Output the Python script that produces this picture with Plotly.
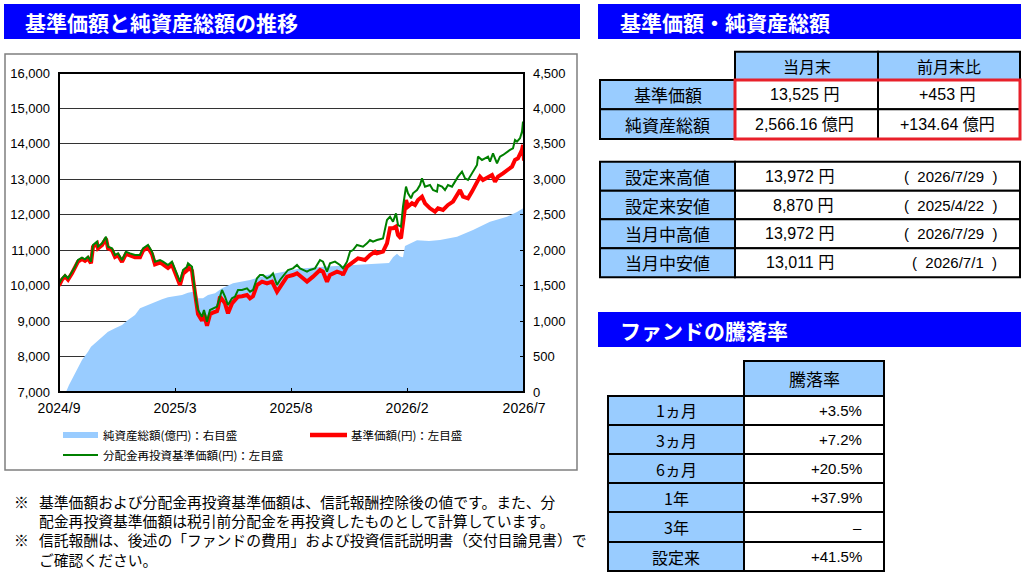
import plotly.graph_objects as go

W, H = 1024, 578

# ---- data: trading-day index from 2024/9 to 2026/7 ----
tick_days = [0, 116, 232, 348, 465]
tick_labels = ["2024/9", "2025/3", "2025/8", "2026/2", "2026/7"]

# 純資産総額 (億円)
days_nav = [0, 7, 10, 16, 23, 29, 32, 36, 43, 49, 56, 63, 69, 76, 81, 89, 96, 103, 109, 116,
            123, 129, 134, 137, 139, 144, 149, 156, 163, 174, 191, 208, 224, 240, 264, 280, 298,
            318, 330, 334, 338, 341, 344, 346, 350, 358, 370, 381, 398, 414, 431, 448, 458, 465]
nav = [0, 0, 99, 263, 451, 569, 639, 686, 780, 851, 898, 945, 1016, 1086, 1181, 1227, 1274, 1307,
       1335, 1354, 1368, 1401, 1415, 1400, 1322, 1322, 1368, 1392, 1463, 1533, 1580, 1650, 1700,
       1740, 1768, 1780, 1792, 1805, 1820, 1900, 1950, 1910, 1900, 2060, 2090, 2140, 2130, 2144,
       2191, 2285, 2402, 2473, 2540, 2600]

# 基準価額 (円)
days_price = [0, 3, 6, 9, 13, 16, 19, 23, 26, 29, 32, 34, 38, 39, 43, 47, 49, 53, 56, 59, 63, 67,
              71, 76, 81, 84, 89, 93, 96, 101, 104, 109, 113, 116, 119, 121, 124, 128, 129, 133,
              134, 137, 139, 143, 145, 148, 151, 154, 158, 159, 161, 166, 169, 173, 179, 183, 188,
              191, 194, 198, 203, 208, 213, 218, 221, 228, 234, 238, 244, 248, 254, 261, 264, 268,
              271, 278, 283, 284, 288, 294, 299, 306, 311, 316, 318, 324, 328, 331, 334, 337, 339,
              342, 344, 347, 349, 353, 356, 359, 363, 366, 371, 376, 379, 384, 389, 394, 398, 401,
              404, 409, 413, 418, 421, 424, 429, 433, 436, 439, 444, 449, 453, 456, 459, 463, 464, 465]
price = [10000, 10170, 10260, 10170, 10350, 10490, 10680, 10750, 10700, 10770, 10630, 11100, 11190,
         11050, 11140, 11330, 11050, 11000, 10810, 10860, 10670, 10900, 10850, 10800, 10800, 10990,
         11080, 10890, 10600, 10650, 10600, 10500, 10590, 10350, 10160, 10020, 10340, 10430, 10520,
         10420, 10190, 9480, 9200, 9010, 9200, 8870, 9190, 9240, 9280, 9370, 9690, 9502, 9220, 9500,
         9690, 9700, 9737, 9643, 9700, 10019, 10113, 10066, 10113, 9831, 9972, 10254, 10301, 10348,
         10207, 10113, 10254, 10442, 10395, 10113, 10301, 10395, 10348, 10301, 10536, 10677, 10771,
         10724, 10865, 10959, 10912, 10959, 11194, 11617, 11617, 11665, 11430, 11335, 11853, 12418,
         12230, 12324, 12277, 12418, 12512, 12324, 12183, 12089, 12183, 12136, 12277, 12371, 12559,
         12700, 12512, 12465, 12653, 12935, 13076, 12982, 13076, 13123, 12935, 13076, 13170, 13264,
         13358, 13547, 13594, 13829, 13972, 13525]

# 分配金再投資基準価額 (円)
days_reinv = [0, 3, 6, 9, 13, 16, 19, 23, 26, 29, 32, 34, 38, 39, 43, 47, 49, 53, 56, 59, 63, 67,
              71, 76, 81, 84, 89, 93, 96, 101, 104, 109, 113, 116, 119, 121, 124, 128, 129, 133,
              134, 137, 139, 143, 145, 148, 151, 154, 158, 159, 163, 166, 169, 173, 176, 179, 183,
              188, 191, 194, 198, 201, 204, 208, 211, 214, 218, 221, 224, 229, 234, 238, 241, 244,
              248, 251, 256, 261, 264, 268, 271, 276, 281, 284, 288, 291, 294, 298, 304, 308, 311,
              314, 318, 324, 328, 331, 334, 337, 339, 342, 344, 347, 349, 352, 354, 358, 361, 363,
              366, 371, 374, 378, 379, 383, 386, 389, 393, 396, 399, 403, 406, 409, 413, 418, 419,
              423, 426, 429, 431, 434, 438, 441, 444, 448, 451, 454, 456, 458, 461, 463, 464, 465]
reinv = [10050, 10208, 10301, 10208, 10395, 10536, 10724, 10790, 10743, 10818, 10677, 11148, 11241,
         11100, 11194, 11382, 11100, 11053, 10865, 10912, 10724, 10959, 10912, 10865, 10865, 11053,
         11148, 10959, 10677, 10724, 10677, 10583, 10677, 10442, 10254, 10113, 10442, 10536, 10630,
         10536, 10301, 9596, 9314, 9126, 9314, 8985, 9314, 9361, 9408, 9502, 9878, 9690, 9455, 9643,
         9690, 9878, 9878, 9925, 9831, 9878, 10208, 10301, 10301, 10208, 10254, 10348, 10019, 10160,
         10254, 10442, 10489, 10583, 10489, 10442, 10395, 10442, 10489, 10724, 10677, 10395, 10630,
         10677, 10583, 10489, 10677, 10959, 11006, 11148, 11100, 11194, 11288, 11241, 11288, 11335,
         11853, 11947, 11805, 12041, 11711, 11665, 12230, 12794, 12606, 12465, 12606, 12700, 12841,
         13029, 12794, 12841, 12700, 12653, 12841, 12794, 12700, 12841, 12794, 12935, 13076, 13217,
         13029, 12982, 13170, 13405, 13641, 13547, 13594, 13641, 13500, 13735, 13453, 13641, 13688,
         13782, 13829, 13876, 14111, 14064, 14158, 14350, 14627, 14150]

# tables
t1_cols = ["当月末", "前月末比"]
t1_rows = ["基準価額", "純資産総額"]
t1_now = ["13,525 円", "2,566.16 億円"]
t1_diff = ["+453 円", "+134.64 億円"]

t2_rows = ["設定来高値", "設定来安値", "当月中高値", "当月中安値"]
t2_price = ["13,972 円", "8,870 円", "13,972 円", "13,011 円"]
t2_date = ["2026/7/29", "2025/4/22", "2026/7/29", "2026/7/1"]

t3_head = "騰落率"
t3_rows = ["1ヵ月", "3ヵ月", "6ヵ月", "1年", "3年", "設定来"]
t3_vals = ["+3.5%", "+7.2%", "+20.5%", "+37.9%", "–", "+41.5%"]

notes = ["基準価額および分配金再投資基準価額は、信託報酬控除後の値です。また、分",
         "配金再投資基準価額は税引前分配金を再投資したものとして計算しています。",
         "信託報酬は、後述の「ファンドの費用」および投資信託説明書（交付目論見書）で",
         "ご確認ください。"]
note_marks = [0, 2]  # lines that start with ※

BLUE = "#0000FF"
LIGHT = "#99CCFF"
JP = "Noto Sans CJK JP"
NUM = "Liberation Sans, Noto Sans CJK JP"


def px(x):
    return x / W


def py(y):
    return 1 - y / H


shapes = []
annos = []


def rect(x0, y0, x1, y1, fill=None, line="black", lw=2, layer="above"):
    shapes.append(dict(type="rect", xref="paper", yref="paper", x0=px(x0), x1=px(x1),
                       y0=py(y1), y1=py(y0), fillcolor=fill or "rgba(0,0,0,0)",
                       line=dict(color=line, width=lw), layer=layer))


def hline(x0, x1, y, color, lw):
    shapes.append(dict(type="line", xref="paper", yref="paper", x0=px(x0), x1=px(x1),
                       y0=py(y), y1=py(y), line=dict(color=color, width=lw)))


def text(x, y, s, size, color="black", family=JP, xanchor="center"):
    annos.append(dict(xref="paper", yref="paper", x=px(x), y=py(y), text=s, showarrow=False,
                      xanchor=xanchor, yanchor="middle", align="left",
                      font=dict(size=size, color=color, family=family)))


fig = go.Figure()
fig.add_trace(go.Scatter(x=days_nav, y=nav, mode="lines", fill="tozeroy", fillcolor=LIGHT,
                         line=dict(width=0, color=LIGHT), yaxis="y", hoverinfo="skip"))
fig.add_trace(go.Scatter(x=days_price, y=price, mode="lines", line=dict(color="#FF0000", width=4),
                         yaxis="y2"))
fig.add_trace(go.Scatter(x=days_reinv, y=reinv, mode="lines", line=dict(color="#008000", width=2),
                         yaxis="y2"))

# chart frame and title bars
rect(5, 54, 577, 470, line="#7F7F7F", lw=1.5)
rect(59, 73, 524, 392, line="black", lw=2)
rect(4, 4, 580, 39, fill=BLUE, line=BLUE, lw=0)
text(23, 22, "<b>基準価額と純資産総額の推移</b>", 21, "white", xanchor="left")
rect(598, 4, 1021, 39, fill=BLUE, line=BLUE, lw=0)
text(618, 22, "<b>基準価額・純資産総額</b>", 21, "white", xanchor="left")
rect(598, 312, 1021, 347, fill=BLUE, line=BLUE, lw=0)
text(618, 330, "<b>ファンドの騰落率</b>", 21, "white", xanchor="left")

# legend
hline(63, 98, 435, LIGHT, 6)
text(101, 435, "純資産総額(億円)：右目盛", 11.5, xanchor="left")
hline(310, 347, 435, "#FF0000", 4.5)
text(349, 435, "基準価額(円)：左目盛", 11.5, xanchor="left")
hline(63, 98, 455, "#008000", 2)
text(101, 455, "分配金再投資基準価額(円)：左目盛", 11.5, xanchor="left")

# table 1
ys1 = [80, 109.3, 139]
for j, c in enumerate(t1_cols):
    x0, x1 = [(735, 878), (878, 1020)][j]
    rect(x0, 51.7, x1, 80, fill=LIGHT)
    text((x0 + x1) / 2, 66, c, 16)
for i, r in enumerate(t1_rows):
    y0, y1 = ys1[i], ys1[i + 1]
    rect(600, y0, 735, y1, fill=LIGHT)
    text(667.5, (y0 + y1) / 2, r, 17)
    rect(735, y0, 878, y1, fill="white")
    text(804, (y0 + y1) / 2, t1_now[i], 16, family=NUM)
    rect(878, y0, 1020, y1, fill="white")
    text(947, (y0 + y1) / 2, t1_diff[i], 16, family=NUM)
rect(735, 80, 1020, 139, line="#E8202A", lw=3)

# table 2
ys2 = [161.7, 190.7, 219.3, 248.3, 277.3]
for i, r in enumerate(t2_rows):
    y0, y1 = ys2[i], ys2[i + 1]
    rect(600, y0, 735, y1, fill=LIGHT)
    text(667.5, (y0 + y1) / 2, r, 17)
    rect(735, y0, 1020, y1, fill="white")
    text(836, (y0 + y1) / 2, t2_price[i], 16, family=NUM, xanchor="right")
    text(999, (y0 + y1) / 2, "(  " + t2_date[i] + "  )", 15, family=NUM, xanchor="right")

# table 3
rect(744, 361, 884, 396, fill=LIGHT)
text(814, 378.5, t3_head, 17)
ys3 = [396, 425, 454, 483, 512, 542, 571]
for i, r in enumerate(t3_rows):
    y0, y1 = ys3[i], ys3[i + 1]
    rect(608, y0, 744, y1, fill=LIGHT)
    text(676, (y0 + y1) / 2, r, 16)
    rect(744, y0, 884, y1, fill="white")
    text(864, (y0 + y1) / 2, t3_vals[i], 15, family=NUM, xanchor="right")

# footnotes: one text block, ※ marks beside their lines
NS = 14.8
step = NS * 1.3
first = 501.5
for k in note_marks:
    text(12, first + k * step, "※", NS, xanchor="left")
text(37, first + (len(notes) - 1) * step / 2, "<br>".join(notes), NS, xanchor="left")

axis_font = dict(size=13, color="black", family="Liberation Sans")
fig.update_layout(
    width=W, height=H,
    margin=dict(l=0, r=0, t=0, b=0),
    paper_bgcolor="white", plot_bgcolor="white",
    showlegend=False,
    xaxis=dict(domain=[px(59), px(524)], range=[0, 465], tickvals=tick_days, ticktext=tick_labels,
               ticks="inside", ticklen=4, tickcolor="black", showgrid=False, zeroline=False,
               showline=False, automargin=False, ticklabelstandoff=6,
               tickfont=dict(size=14, color="black", family="Liberation Sans")),
    yaxis=dict(domain=[py(392), py(73)], range=[0, 4500], dtick=500, side="right",
               tickformat=",", showgrid=True, gridcolor="#333333", gridwidth=1, zeroline=False,
               ticks="inside", ticklen=4, tickcolor="black", ticklabelstandoff=8,
               automargin=False, tickfont=axis_font),
    yaxis2=dict(overlaying="y", side="left", range=[7000, 16000], dtick=1000, tickformat=",",
                showgrid=False, zeroline=False, ticks="", ticklabelstandoff=8,
                automargin=False, tickfont=axis_font),
    shapes=shapes,
    annotations=annos,
)

# the page body has a default 8px margin; drop it so the figure sits at the window corner
fig.write_html("out.html", config={"displayModeBar": False},
               post_script="document.body.style.margin='0';")
